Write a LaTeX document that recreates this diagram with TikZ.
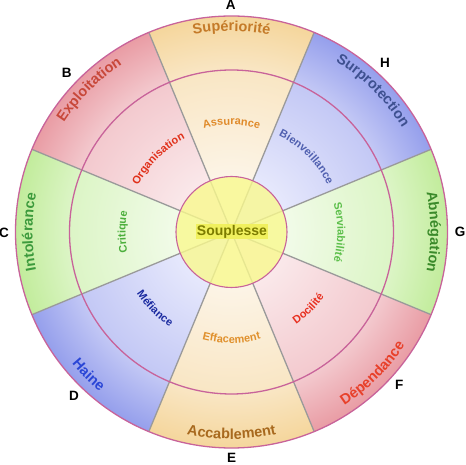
\documentclass[tikz,border=0pt]{standalone}
\usepackage{fontspec}
\setmainfont{Liberation Sans}
\usetikzlibrary{decorations.text}

\definecolor{orO}{HTML}{F5D69C}
\definecolor{orM}{HTML}{F9E6C4}
\definecolor{orI}{HTML}{FCF4E6}
\definecolor{reO}{HTML}{E99CA4}
\definecolor{reM}{HTML}{F3C9CE}
\definecolor{reI}{HTML}{FAE8EA}
\definecolor{grO}{HTML}{C2EC9C}
\definecolor{grM}{HTML}{DCF5C6}
\definecolor{grI}{HTML}{F1FBE8}
\definecolor{blO}{HTML}{959FEC}
\definecolor{blM}{HTML}{C3C8F5}
\definecolor{blI}{HTML}{E6E8FC}
\definecolor{ringc}{HTML}{C8639A}
\definecolor{linec}{HTML}{9A9A9A}
\definecolor{corefill}{HTML}{F9F98E}
\definecolor{souphl}{HTML}{F0F05E}
\definecolor{soupc}{HTML}{7C7C00}

\definecolor{cSup}{HTML}{C47A28}
\definecolor{cExp}{HTML}{C8483A}
\definecolor{cInt}{HTML}{3C9A3C}
\definecolor{cHai}{HTML}{2A46D6}
\definecolor{cAcc}{HTML}{A8691E}
\definecolor{cDep}{HTML}{E8402A}
\definecolor{cAbn}{HTML}{3A8A2A}
\definecolor{cSur}{HTML}{3E5090}
\definecolor{cAss}{HTML}{E08A2A}
\definecolor{cOrg}{HTML}{E0301A}
\definecolor{cCri}{HTML}{4CAF3C}
\definecolor{cMef}{HTML}{1A2AA0}
\definecolor{cEff}{HTML}{E0902C}
\definecolor{cDoc}{HTML}{E83020}
\definecolor{cSer}{HTML}{5CBF4A}
\definecolor{cBie}{HTML}{5060B0}

\pgfdeclareradialshading{shOr}{\pgfpoint{0bp}{0bp}}{color(0bp)=(orI); color(6.5bp)=(orI); color(18.75bp)=(orM); color(25bp)=(orO); color(50bp)=(orO)}
\pgfdeclareradialshading{shRe}{\pgfpoint{0bp}{0bp}}{color(0bp)=(reI); color(6.5bp)=(reI); color(18.75bp)=(reM); color(25bp)=(reO); color(50bp)=(reO)}
\pgfdeclareradialshading{shGr}{\pgfpoint{0bp}{0bp}}{color(0bp)=(grI); color(6.5bp)=(grI); color(18.75bp)=(grM); color(25bp)=(grO); color(50bp)=(grO)}
\pgfdeclareradialshading{shBl}{\pgfpoint{0bp}{0bp}}{color(0bp)=(blI); color(6.5bp)=(blI); color(18.75bp)=(blM); color(25bp)=(blO); color(50bp)=(blO)}

\newcommand\outerfnt{\fontsize{14.5}{16}\selectfont\bfseries}
\newcommand\innerfnt{\fontsize{11}{13}\selectfont\bfseries}

% clockwise arc label (letters' tops outward)
\newcommand\cwlab[5]{%
  \path[decorate,decoration={text along path,text align=center,text={|#4|#5}}]
    ({#1+#3}:#2) arc[start angle={#1+#3}, end angle={#1-#3}, radius=#2];}
% counter-clockwise arc label (letters' tops inward)
\newcommand\ccwlab[5]{%
  \path[decorate,decoration={text along path,text align=center,text={|#4|#5}}]
    ({#1-#3}:#2) arc[start angle={#1-#3}, end angle={#1+#3}, radius=#2];}

\tikzset{
  ring/.style={draw=ringc, line width=1.3pt},
  sectorline/.style={draw=linec, line width=1.3pt},
  letter/.style={font=\fontsize{13.5}{15}\selectfont\bfseries, text=black, inner sep=0pt}
}

\begin{document}
\begin{tikzpicture}
\useasboundingbox (-231.5pt,-233pt) rectangle (234.5pt,232pt);
\coordinate (O) at (0,0);

% sectors
\foreach \a/\s in {90/shOr,135/shRe,180/shGr,225/shBl,270/shOr,315/shRe,0/shGr,45/shBl}{
  \begin{scope}
    \clip (O) -- ({\a-22.5}:216pt) arc[start angle={\a-22.5}, end angle={\a+22.5}, radius=216pt] -- cycle;
    \shade[shading=\s] (O) circle[radius=216pt];
  \end{scope}
}

% sector borders
\foreach \a in {22.5,67.5,...,337.5}{
  \draw[sectorline] (O) -- (\a:216pt);
}

% rings
\draw[ring] (O) circle[radius=162pt];
\draw[ring] (O) circle[radius=216pt];

% core
\node[circle, minimum size=111pt, inner sep=0pt, fill=corefill, fill opacity=0.8, draw=ringc, line width=1.1pt] (core) at (O) {};
\node[fill=souphl, inner sep=1pt, text=soupc, font=\fontsize{14}{16}\selectfont\bfseries] (soup) at (0.5pt,0.5pt) {Souplesse};

% outer labels
\cwlab{90}{201pt}{25}{\outerfnt\color{cSup}}{Supériorité}
\cwlab{135}{200pt}{25}{\outerfnt\color{cExp}}{Exploitation}
\cwlab{180}{199pt}{25}{\outerfnt\color{cInt}}{Intolérance}
\cwlab{45}{200pt}{25}{\outerfnt\color{cSur}}{Surprotection}
\cwlab{0}{199pt}{25}{\outerfnt\color{cAbn}}{Abnégation}
\ccwlab{225}{207pt}{25}{\outerfnt\color{cHai}}{Haine}
\ccwlab{270}{207pt}{25}{\outerfnt\color{cAcc}}{Accablement}
\ccwlab{315}{207pt}{25}{\outerfnt\color{cDep}}{Dépendance}

% inner labels
\cwlab{90}{107pt}{35}{\innerfnt\color{cAss}}{Assurance}
\cwlab{135}{104pt}{35}{\innerfnt\color{cOrg}}{Organisation}
\cwlab{180}{106pt}{35}{\innerfnt\color{cCri}}{Critique}
\cwlab{45}{107pt}{35}{\innerfnt\color{cBie}}{Bienveillance}
\cwlab{0}{106pt}{35}{\innerfnt\color{cSer}}{Serviabilité}
\ccwlab{225}{113pt}{35}{\innerfnt\color{cMef}}{Méfiance}
\ccwlab{270}{111pt}{35}{\innerfnt\color{cEff}}{Effacement}
\ccwlab{315}{113pt}{35}{\innerfnt\color{cDoc}}{Docilité}

% letters
\node[letter] (lA) at (-0.8pt,227pt) {A};
\node[letter] (lB) at (-164.8pt,158.7pt) {B};
\node[letter] (lC) at (-227.5pt,-1pt) {C};
\node[letter] (lD) at (-157.5pt,-164pt) {D};
\node[letter] (lE) at (0.2pt,-226.3pt) {E};
\node[letter] (lF) at (167.8pt,-153pt) {F};
\node[letter] (lG) at (228.5pt,0.3pt) {G};
\node[letter] (lH) at (153.5pt,169.3pt) {H};
\end{tikzpicture}
\end{document}
